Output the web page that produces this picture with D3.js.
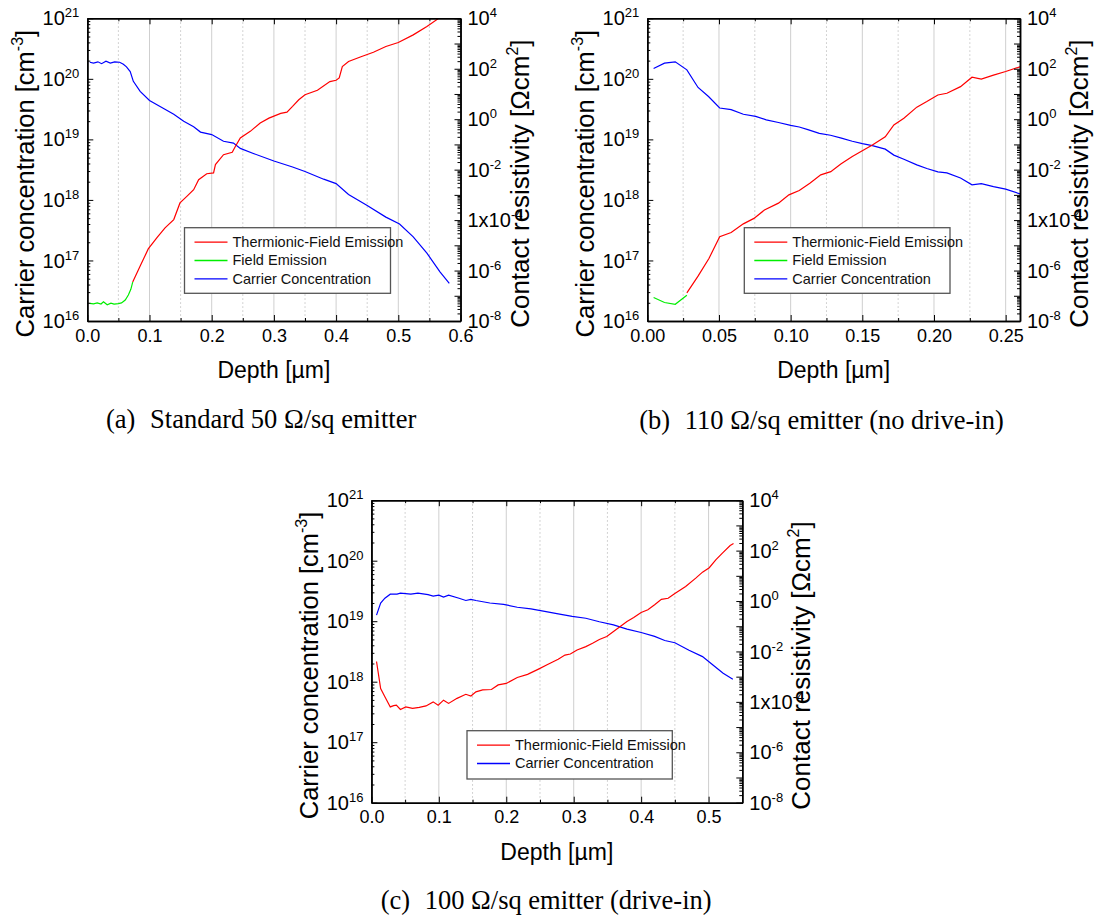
<!DOCTYPE html>
<html>
<head>
<meta charset="utf-8">
<script src="https://cdn.jsdelivr.net/npm/d3@7"></script>
<style>
  body { margin: 0; background: #fff; }
  text { font-family: "Liberation Sans", Arial, sans-serif; }
</style>
</head>
<body>
<script>
// ---- data: [depth µm, value] ----
// (a) standard 50 ohm/sq emitter
const aCarrier = [[0.004,1.88e20],[0.010,1.82e20],[0.017,1.91e20],[0.023,1.78e20],[0.030,1.95e20],[0.037,1.82e20],[0.044,1.91e20],[0.052,1.88e20],[0.058,1.74e20],[0.063,1.58e20],[0.069,1.32e20],[0.074,9.1e19],[0.085,6.2e19],[0.100,4.4e19],[0.117,3.5e19],[0.139,2.6e19],[0.155,2.0e19],[0.171,1.62e19],[0.182,1.32e19],[0.200,1.2e19],[0.219,9.3e18],[0.235,8.7e18],[0.246,7.1e18],[0.268,5.8e18],[0.300,4.4e18],[0.330,3.5e18],[0.350,2.95e18],[0.380,2.2e18],[0.400,1.86e18],[0.420,1.23e18],[0.450,8.1e17],[0.480,5.2e17],[0.502,4.0e17],[0.524,2.45e17],[0.546,1.32e17],[0.567,6.5e16],[0.582,4.2e16]];
const aTfe = [[0.073,3.5e-7],[0.085,1.5e-6],[0.098,7.2e-6],[0.112,2.0e-5],[0.125,4.9e-5],[0.139,1.05e-4],[0.149,4.8e-4],[0.160,8.7e-4],[0.171,1.6e-3],[0.179,4.0e-3],[0.192,6.9e-3],[0.203,7.4e-3],[0.206,1.6e-2],[0.219,3.9e-2],[0.233,4.9e-2],[0.238,8.3e-2],[0.246,0.18],[0.262,0.33],[0.278,0.71],[0.292,1.1],[0.311,1.7],[0.321,1.9],[0.330,3.2],[0.340,5.9],[0.350,9.3],[0.370,14],[0.390,31],[0.400,35],[0.405,43],[0.410,123],[0.420,195],[0.440,300],[0.460,450],[0.480,760],[0.500,1100],[0.524,2200],[0.546,4700],[0.565,1.0e4],[0.580,1.6e4]];
const aFe = [[0.004,5.0e-8],[0.010,4.8e-8],[0.016,5.2e-8],[0.022,4.7e-8],[0.026,5.8e-8],[0.032,4.4e-8],[0.038,5.1e-8],[0.043,4.7e-8],[0.050,4.9e-8],[0.055,5.2e-8],[0.061,6.8e-8],[0.066,1.07e-7],[0.070,1.8e-7],[0.073,3.5e-7]];

// (b) 110 ohm/sq emitter, no drive-in
const bCarrier = [[0.0044,1.48e20],[0.012,1.82e20],[0.0195,1.91e20],[0.0276,1.41e20],[0.0354,7.2e19],[0.0427,5.1e19],[0.0505,3.3e19],[0.0585,3.1e19],[0.067,2.6e19],[0.0756,2.4e19],[0.083,2.1e19],[0.0915,1.9e19],[0.100,1.7e19],[0.106,1.6e19],[0.112,1.45e19],[0.120,1.26e19],[0.1278,1.17e19],[0.1354,1.05e19],[0.143,9.3e18],[0.150,8.5e18],[0.157,7.9e18],[0.166,6.9e18],[0.172,5.5e18],[0.179,4.7e18],[0.188,3.8e18],[0.195,3.3e18],[0.2027,2.9e18],[0.209,2.8e18],[0.2185,2.3e18],[0.2265,1.78e18],[0.233,1.86e18],[0.2415,1.66e18],[0.250,1.51e18],[0.260,1.26e18]];
const bTfe = [[0.0276,1.3e-7],[0.0354,6.0e-7],[0.043,3.0e-6],[0.0505,2.2e-5],[0.0585,3.2e-5],[0.067,7.1e-5],[0.0744,1.17e-4],[0.0817,2.5e-4],[0.0915,4.7e-4],[0.0988,1.0e-3],[0.106,1.5e-3],[0.1134,2.9e-3],[0.121,6.2e-3],[0.128,8.3e-3],[0.135,1.66e-2],[0.143,3.3e-2],[0.150,5.6e-2],[0.157,9.5e-2],[0.166,0.20],[0.172,0.59],[0.179,1.1],[0.188,3.0],[0.195,5.0],[0.2027,9.1],[0.209,10.7],[0.2185,19.5],[0.2265,46],[0.233,39],[0.2415,56],[0.250,78],[0.260,120]];
const bFe = [[0.0044,8.5e-8],[0.012,5.4e-8],[0.0195,4.6e-8],[0.0276,1.05e-7]];

// (c) 100 ohm/sq emitter, drive-in
const cCarrier = [[0.0076,1.26e19],[0.0137,2.0e19],[0.020,2.4e19],[0.028,2.8e19],[0.038,2.8e19],[0.043,2.9e19],[0.0585,2.8e19],[0.069,2.9e19],[0.084,2.75e19],[0.0916,2.6e19],[0.100,2.7e19],[0.107,2.5e19],[0.1145,2.7e19],[0.130,2.4e19],[0.140,2.2e19],[0.1476,2.3e19],[0.155,2.2e19],[0.1756,2.0e19],[0.196,1.9e19],[0.2163,1.7e19],[0.2366,1.6e19],[0.257,1.45e19],[0.277,1.32e19],[0.2977,1.2e19],[0.318,1.12e19],[0.338,9.8e18],[0.359,8.7e18],[0.379,7.4e18],[0.400,6.5e18],[0.420,5.6e18],[0.435,4.8e18],[0.450,4.4e18],[0.471,3.3e18],[0.491,2.6e18],[0.506,1.9e18],[0.5216,1.38e18],[0.536,1.1e18]];
const cTfe = [[0.0076,4.0e-3],[0.0137,3.4e-4],[0.020,1.6e-4],[0.028,6.3e-5],[0.033,7.1e-5],[0.037,7.4e-5],[0.043,5.0e-5],[0.051,6.3e-5],[0.061,5.5e-5],[0.071,6.0e-5],[0.081,6.9e-5],[0.0916,1.0e-4],[0.099,7.4e-5],[0.107,1.17e-4],[0.1145,8.7e-5],[0.127,1.38e-4],[0.140,2.0e-4],[0.1476,1.7e-4],[0.155,2.5e-4],[0.165,3.0e-4],[0.178,3.1e-4],[0.188,4.7e-4],[0.200,5.4e-4],[0.2163,9.3e-4],[0.2316,1.23e-3],[0.247,1.95e-3],[0.262,3.1e-3],[0.277,4.9e-3],[0.287,7.2e-3],[0.295,7.9e-3],[0.305,1.15e-2],[0.318,1.55e-2],[0.328,2.1e-2],[0.338,3.0e-2],[0.349,3.9e-2],[0.359,6.2e-2],[0.369,9.8e-2],[0.379,0.155],[0.389,0.22],[0.400,0.35],[0.410,0.45],[0.420,0.71],[0.430,1.17],[0.440,1.29],[0.450,2.0],[0.466,3.8],[0.481,8.1],[0.491,14],[0.501,21],[0.511,44],[0.5216,85],[0.532,160],[0.537,190]];

// axis ticks and labels
const carrierDecades = [1e16, 1e17, 1e18, 1e19, 1e20, 1e21];
const resistDecades = d3.range(-8, 5).map(e => Math.pow(10, e));
const resistLabelled = [-8, -6, -4, -2, 0, 2, 4];
const ticksA = [0, 0.1, 0.2, 0.3, 0.4, 0.5, 0.6];
const minorA = [0.05, 0.15, 0.25, 0.35, 0.45, 0.55];
const ticksB = [0, 0.05, 0.10, 0.15, 0.20, 0.25];
const minorB = [0.025, 0.075, 0.125, 0.175, 0.225];
const ticksC = [0, 0.1, 0.2, 0.3, 0.4, 0.5];
const minorC = [0.05, 0.15, 0.25, 0.35, 0.45];

const legendNames = ["Thermionic-Field Emission", "Field Emission", "Carrier Concentration"];
const colors = { tfe: "#ff0000", fe: "#00ee00", carrier: "#0000ff" };

const svg = d3.select("body").append("svg")
    .attr("width", 1096)
    .attr("height", 921);

function minorLog(lo, hi) {
    const out = [];
    for (let e = lo; e < hi; e++)
        for (let k = 2; k <= 9; k++) out.push(k * Math.pow(10, e));
    return out;
}

// "10" with a raised exponent
function powerLabel(sel, prefix, exp) {
    sel.text(null);
    sel.append("tspan").text(prefix);
    sel.append("tspan").attr("font-size", 13).attr("dy", -8).text(exp);
}

function drawPanel(p) {
    const w = p.width, h = p.height;
    const g = svg.append("g").attr("transform", `translate(${p.left},${p.top})`);

    const x = d3.scaleLinear().domain([0, p.xMax]).range([0, w]);
    const yL = d3.scaleLog().domain([1e16, 1e21]).range([h, 0]);
    const yR = d3.scaleLog().domain([1e-8, 1e4]).range([h, 0]);

    // vertical grid
    g.append("g").selectAll("line")
        .data(p.ticks.filter(v => v > 0 && v < p.xMax - 1e-9))
        .join("line")
        .attr("x1", d => x(d)).attr("x2", d => x(d))
        .attr("y1", 0).attr("y2", h)
        .attr("stroke", "#cfcfcf").attr("stroke-width", 1);
    g.append("g").selectAll("line")
        .data(p.minor)
        .join("line")
        .attr("x1", d => x(d)).attr("x2", d => x(d))
        .attr("y1", 0).attr("y2", h)
        .attr("stroke", "#b8b8b8").attr("stroke-width", 0.8)
        .attr("stroke-dasharray", "1.5,2.5");

    // curves
    const clipId = "clip-" + p.id;
    g.append("clipPath").attr("id", clipId)
        .append("rect").attr("width", w).attr("height", h);
    const plot = g.append("g").attr("clip-path", `url(#${clipId})`);
    const lineL = d3.line().x(d => x(d[0])).y(d => yL(d[1]));
    const lineR = d3.line().x(d => x(d[0])).y(d => yR(d[1]));
    const series = [
        { data: p.carrier, line: lineL, color: colors.carrier },
        { data: p.tfe, line: lineR, color: colors.tfe },
        { data: p.fe, line: lineR, color: colors.fe }
    ].filter(s => s.data);
    series.forEach(s => {
        plot.append("path")
            .attr("d", s.line(s.data))
            .attr("fill", "none")
            .attr("stroke", s.color)
            .attr("stroke-width", 1.2);
    });

    // axes (ticks point inwards)
    const fmt = d3.format(p.fmt);
    const bottom = g.append("g").attr("transform", `translate(0,${h})`)
        .call(d3.axisBottom(x).tickValues(p.ticks).tickSizeInner(-6).tickSizeOuter(0)
            .tickPadding(8).tickFormat(fmt));
    bottom.selectAll("text").attr("font-size", 18).attr("fill", "#000");
    g.append("g").attr("transform", `translate(0,${h})`)
        .call(d3.axisBottom(x).tickValues(p.minor).tickSizeInner(-3).tickSizeOuter(0).tickFormat(""));
    g.append("g")
        .call(d3.axisTop(x).tickValues(p.ticks).tickSizeInner(-6).tickSizeOuter(0).tickFormat(""));
    g.append("g")
        .call(d3.axisTop(x).tickValues(p.minor).tickSizeInner(-3).tickSizeOuter(0).tickFormat(""));

    const left = g.append("g")
        .call(d3.axisLeft(yL).tickValues(carrierDecades).tickSizeInner(-6).tickSizeOuter(0)
            .tickPadding(8).tickFormat(d => d));
    left.selectAll(".tick text")
        .attr("font-size", 20).attr("fill", "#000").attr("dy", "0.33em")
        .each(function(d) { powerLabel(d3.select(this), "10", Math.round(Math.log10(d))); });
    g.append("g")
        .call(d3.axisLeft(yL).tickValues(minorLog(16, 21)).tickSizeInner(-3).tickSizeOuter(0).tickFormat(""));

    const right = g.append("g").attr("transform", `translate(${w},0)`)
        .call(d3.axisRight(yR).tickValues(resistDecades).tickSizeInner(-6).tickSizeOuter(0)
            .tickPadding(7).tickFormat(d => d));
    right.selectAll(".tick text")
        .attr("font-size", 20).attr("fill", "#000").attr("dy", "0.33em")
        .each(function(d) {
            const e = Math.round(Math.log10(d));
            const t = d3.select(this);
            if (!resistLabelled.includes(e)) { t.remove(); return; }
            powerLabel(t, e === -4 ? "1x10" : "10", e);
        });
    g.append("g").attr("transform", `translate(${w},0)`)
        .call(d3.axisRight(yR).tickValues(minorLog(-8, 4)).tickSizeInner(-3).tickSizeOuter(0).tickFormat(""));

    g.selectAll(".domain").attr("stroke", "#000").attr("stroke-width", 1.5);
    g.selectAll(".tick line").attr("stroke", "#000").attr("stroke-width", 1);

    // axis titles
    const cy = h / 2 + 14;
    const lt = g.append("text")
        .attr("transform", `translate(-53,${cy}) rotate(-90)`)
        .attr("text-anchor", "middle").attr("font-size", 25.5);
    lt.append("tspan").text("Carrier concentration [cm");
    lt.append("tspan").attr("font-size", 16).attr("dy", -11).text("-3");
    lt.append("tspan").attr("dy", 11).text("]");

    const rt = g.append("text")
        .attr("transform", `translate(${w + 68},${cy}) rotate(-90)`)
        .attr("text-anchor", "middle").attr("font-size", 26);
    rt.append("tspan").text("Contact resistivity [\u03A9cm");
    rt.append("tspan").attr("font-size", 16).attr("dy", -11).text("2");
    rt.append("tspan").attr("dy", 11).text("]");

    g.append("text")
        .attr("x", w / 2).attr("y", h + 57)
        .attr("text-anchor", "middle").attr("font-size", 23)
        .text("Depth [\u00B5m]");

    // legend
    const L = p.legend;
    const lg = svg.append("g").attr("transform", `translate(${L.x},${L.y})`);
    lg.append("rect").attr("width", L.w).attr("height", L.h)
        .attr("fill", "#fff").attr("stroke", "#555").attr("stroke-width", 1.3);
    const entries = [
        { name: legendNames[0], color: colors.tfe },
        { name: legendNames[1], color: colors.fe, skip: !p.fe },
        { name: legendNames[2], color: colors.carrier }
    ].filter(e => !e.skip);
    entries.forEach((e, i) => {
        const yy = 14.5 + i * 18.3;
        lg.append("line").attr("x1", 10).attr("x2", 43).attr("y1", yy).attr("y2", yy)
            .attr("stroke", e.color).attr("stroke-width", 1.3);
        lg.append("text").attr("x", 48).attr("y", yy + 5)
            .attr("font-size", 14.5).attr("fill", "#111").text(e.name);
    });

    // caption
    const cap = svg.append("text")
        .attr("x", p.capX).attr("y", p.capY)
        .attr("font-size", 26.5)
        .style("font-family", "'Liberation Serif', 'Times New Roman', serif");
    cap.append("tspan").text(p.capTag);
    cap.append("tspan").attr("dx", 8).text(p.capText);
}

drawPanel({
    id: "a", left: 87.3, top: 18.3, width: 373.2, height: 302.7,
    xMax: 0.6, ticks: ticksA, minor: minorA, fmt: ".1f",
    carrier: aCarrier, tfe: aTfe, fe: aFe,
    legend: { x: 184.5, y: 227.7, w: 206, h: 65.6 },
    capX: 106, capY: 428, capTag: "(a)", capText: " Standard 50 \u03A9/sq emitter"
});
drawPanel({
    id: "b", left: 647.3, top: 18.3, width: 372.7, height: 302.7,
    xMax: 0.26, ticks: ticksB, minor: minorB, fmt: ".2f",
    carrier: bCarrier, tfe: bTfe, fe: bFe,
    legend: { x: 744.3, y: 227.7, w: 205.7, h: 65.6 },
    capX: 639.3, capY: 429.3, capTag: "(b)", capText: " 110 \u03A9/sq emitter (no drive-in)"
});
drawPanel({
    id: "c", left: 371.4, top: 500.2, width: 370.9, height: 302.5,
    xMax: 0.55, ticks: ticksC, minor: minorC, fmt: ".1f",
    carrier: cCarrier, tfe: cTfe, fe: null,
    legend: { x: 467, y: 730.7, w: 205.3, h: 48.3 },
    capX: 380.7, capY: 909.3, capTag: "(c)", capText: " 100 \u03A9/sq emitter (drive-in)"
});
</script>
</body>
</html>
